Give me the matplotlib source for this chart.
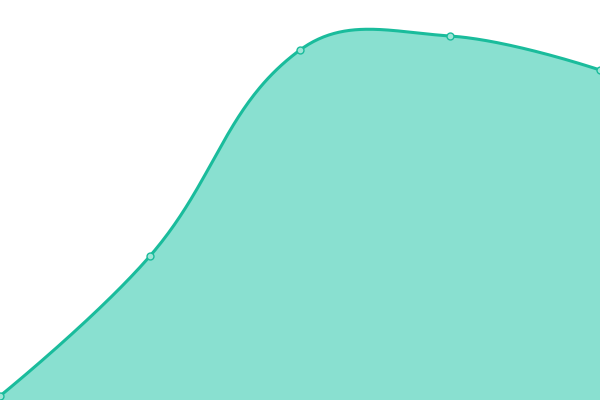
import numpy as np
import matplotlib
matplotlib.use("Agg")
import matplotlib.pyplot as plt

categories = ["A", "B", "C", "D", "E"]
values = [4, 144, 350, 364, 330]

LINE = "#1abc9c"
FILL = "#89e0d0"
SMOOTH = 0.4


def smooth_path(pts, smooth=SMOOTH, n=80):
    """Smoothed polyline (cubic Bezier) computed in display space."""
    pts = np.asarray(pts, float)
    k = len(pts)
    cps = []
    for i in range(k):
        p = pts[i]
        if i == 0 or i == k - 1:
            cps.append((p.copy(), p.copy()))
            continue
        prev, nxt = pts[i - 1], pts[i + 1]
        v = nxt - prev
        l0 = np.hypot(*(p - prev))
        l1 = np.hypot(*(nxt - p))
        r = l1 / (l0 + l1)
        cps.append((p - v * smooth * (1 - r), p + v * smooth * r))
    out = []
    for i in range(k - 1):
        t = np.linspace(0, 1, n, endpoint=(i == k - 2))[:, None]
        p0, p3 = pts[i], pts[i + 1]
        c1, c2 = cps[i][1], cps[i + 1][0]
        out.append((1 - t) ** 3 * p0 + 3 * (1 - t) ** 2 * t * c1
                   + 3 * (1 - t) * t ** 2 * c2 + t ** 3 * p3)
    return np.vstack(out)


x = np.arange(len(categories))

fig = plt.figure(figsize=(6, 4), dpi=100)
ax = fig.add_axes([0, 0, 1, 1])
ax.set_xlim(0, len(categories) - 1)
ax.set_ylim(0, 400)
ax.axis("off")

disp = ax.transData.transform(np.column_stack([x, values]))
curve = ax.transData.inverted().transform(smooth_path(disp))
sx, sy = curve[:, 0], curve[:, 1]

ax.fill_between(sx, sy, 0, color=FILL, linewidth=0)
ax.plot(sx, sy, color=LINE, linewidth=2.2, solid_capstyle="round")
ax.plot(x, values, "o", markersize=5, markerfacecolor="#9fe5d7",
        markeredgecolor=LINE, markeredgewidth=1.0, clip_on=False)
fig.savefig("out.png", dpi=100)
